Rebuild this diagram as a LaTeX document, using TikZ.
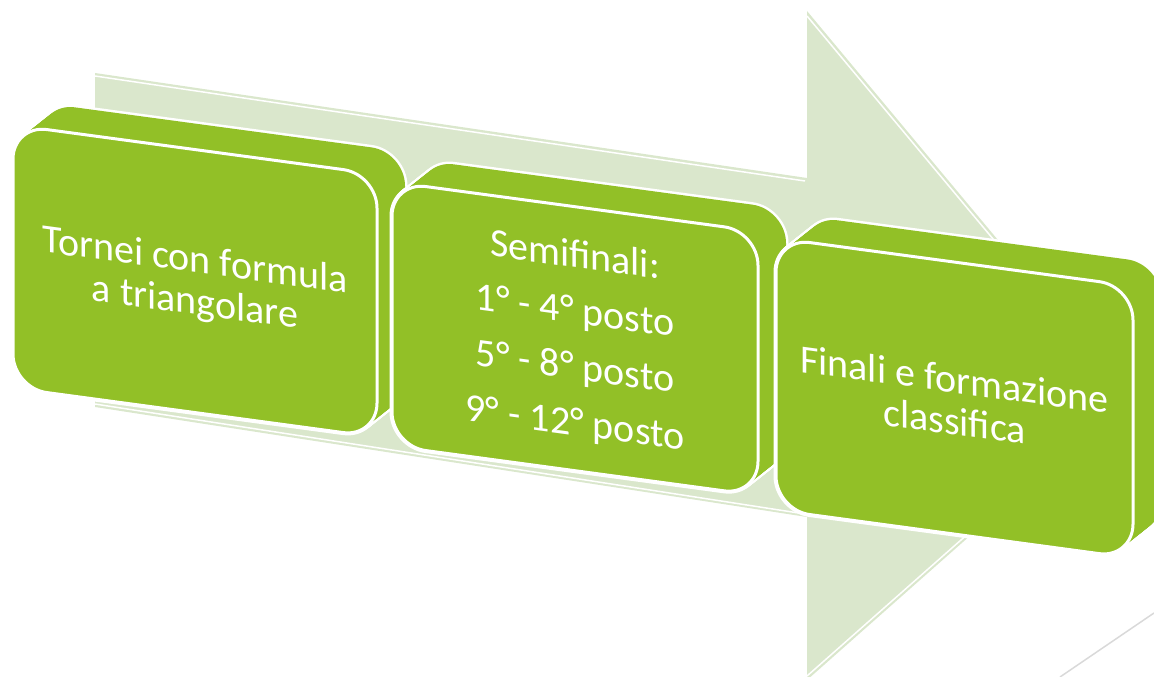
\documentclass[tikz,border=0pt]{standalone}
\usepackage{fontspec}
\setmainfont{Carlito}
\definecolor{verde}{HTML}{92C027}
\definecolor{verdechiaro}{HTML}{DAE7CC}
\tikzset{
  freccia/.style={fill=verdechiaro},
  riflesso/.style={white, line width=1.5pt},
  sagoma/.style={draw=white, line width=5pt, rounded corners=34pt},
  volume/.style={fill=verde, rounded corners=34pt},
  faccia/.style={fill=verde, draw=white, line width=3pt, rounded corners=34pt},
  testo/.style={text=white, align=center, transform shape}
}
\begin{document}
\begin{tikzpicture}[x=1pt, y=1pt]
\useasboundingbox (0,0) rectangle (1154,-677);
\clip (0,0) rectangle (1154,-677);
\fill[freccia] (95,-73) -- (807,-178) -- (807,-11) -- (1128,-396) -- (807,-680) -- (807,-517) -- (95,-407) -- cycle;
\draw[riflesso] (95,-76) -- (805,-181);
\draw[riflesso] (95,-404) -- (805,-514);
\draw[riflesso] (807,-16) -- (1124,-396);
\draw[riflesso] (807,-676) -- (1124,-396);
\draw[gray!30, line width=1.5pt] (1060,-677) -- (1154,-613);
\foreach \x/\y/\w/\h/\n/\s/\testo in {
  13/125/364/263/torneo/42/{Tornei con formula\\a triangolare},
  392/182/366/264/semifinali/56/{Semifinali:\\1° - 4° posto\\5° - 8° posto\\9° - 12° posto},
  776/238/357/272/finali/42/{Finali e formazione\\classifica}}
{
  \begin{scope}[shift={(\x,-\y)}, yslant=-0.135]
    \foreach \k in {0,...,20}
      \draw[sagoma] (1.4*\k,1.3*\k) rectangle ++(\w,-\h);
    \foreach \k in {0,...,20}
      \fill[volume] (1.4*\k,1.3*\k) rectangle ++(\w,-\h);
    \draw[faccia] (0,0) rectangle (\w,-\h);
    \node[testo, font=\fontsize{40}{\s}\selectfont] (\n) at (\w/2,-\h/2-2) {\testo};
  \end{scope}
}
\end{tikzpicture}
\end{document}
